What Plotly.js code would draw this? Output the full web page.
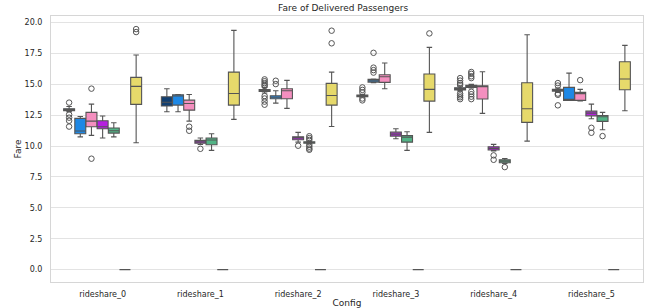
<!DOCTYPE html>
<html>
<head>
<meta charset="utf-8">
<script src="https://cdn.plot.ly/plotly-3.0.1.min.js"></script>
<style>html,body{margin:0;padding:0;background:#fff;}#chart{width:645px;height:308px;}</style>
</head>
<body>
<div id="chart"></div>
<script>
const categories = ["rideshare_0","rideshare_1","rideshare_2","rideshare_3","rideshare_4","rideshare_5"];
const seriesNames = ["series_0","series_1","series_2","series_3","series_4","series_5","series_6"];
const seriesColors = ["#123f70","#1e88e5","#f48fbf","#b620e0","#52b486","#9a9a9a","#e6d96b"];

// series_0 (navy)
const s0_lf  = [12.78, 12.78, 14.30, 13.95, 14.45, 14.35];
const s0_q1  = [12.86, 13.24, 14.42, 14.00, 14.55, 14.45];
const s0_med = [12.94, 13.55, 14.50, 14.08, 14.64, 14.53];
const s0_q3  = [13.02, 13.99, 14.58, 14.14, 14.72, 14.60];
const s0_uf  = [13.20, 14.64, 14.75, 14.20, 14.85, 14.70];
const s0_out = [[13.52,12.55,12.30,12.05,11.58],[],[15.40,15.25,15.10,14.95,14.85,14.05,13.85,13.60,13.35],[14.75,14.55,14.35,13.85,13.70],[15.50,15.30,15.10,14.95,14.25,14.10,13.95,13.80],[15.10,14.90,14.25,14.15,13.30]];

// series_1 (blue)
const s1_lf  = [10.75, 12.78, 13.48, 15.13, 14.70, 13.70];
const s1_q1  = [11.00, 13.32, 13.83, 15.18, 14.75, 13.70];
const s1_med = [11.22, 14.05, 13.95, 15.29, 14.85, 13.75];
const s1_q3  = [12.24, 14.15, 14.07, 15.40, 14.92, 14.75];
const s1_uf  = [12.40, 14.18, 14.48, 15.43, 15.00, 15.91];
const s1_out = [[],[],[15.29,15.02],[17.55,16.35,16.15,15.95],[16.00,15.85,15.65,15.50,14.40,14.20,14.00,13.80],[]];

// series_2 (pink)
const s2_lf  = [10.87, 12.02, 13.05, 14.64, 12.65, 13.65];
const s2_q1  = [11.57, 12.91, 13.83, 15.16, 13.81, 13.70];
const s2_med = [12.02, 13.45, 14.48, 15.61, 14.80, 14.25];
const s2_q3  = [12.73, 13.72, 14.64, 15.78, 14.88, 14.35];
const s2_uf  = [13.40, 14.18, 15.32, 16.72, 16.02, 14.59];
const s2_out = [[14.65,8.98],[11.57,11.24],[],[],[],[15.34]];

// series_3 (purple)
const s3_lf  = [10.65, 10.13, 10.32, 10.59, 9.60, 12.21];
const s3_q1  = [11.40, 10.24, 10.51, 10.81, 9.68, 12.45];
const s3_med = [11.57, 10.35, 10.65, 10.97, 9.81, 12.67];
const s3_q3  = [12.05, 10.46, 10.75, 11.13, 9.94, 12.83];
const s3_uf  = [12.43, 10.65, 11.11, 11.40, 10.14, 13.40];
const s3_out = [[],[9.78],[10.03],[],[9.25,8.89],[11.48,11.08]];

// series_4 (green)
const s4_lf  = [10.75, 9.65, 10.20, 9.65, 8.60, 11.32];
const s4_q1  = [11.05, 10.11, 10.24, 10.32, 8.65, 12.00];
const s4_med = [11.24, 10.49, 10.30, 10.73, 8.78, 12.37];
const s4_q3  = [11.46, 10.65, 10.35, 10.86, 8.89, 12.48];
const s4_uf  = [11.89, 11.00, 10.40, 11.16, 9.00, 12.73];
const s4_out = [[],[],[10.80,10.65,10.50,10.10,9.95,9.80,9.70],[],[8.30],[10.81]];

// series_5 (all zero)
const s5_lf  = [0, 0, 0, 0, 0, 0];
const s5_q1  = [0, 0, 0, 0, 0, 0];
const s5_med = [0, 0, 0, 0, 0, 0];
const s5_q3  = [0, 0, 0, 0, 0, 0];
const s5_uf  = [0, 0, 0, 0, 0, 0];
const s5_out = [[],[],[],[],[],[]];

// series_6 (yellow)
const s6_lf  = [10.27, 12.16, 11.59, 11.11, 10.40, 12.86];
const s6_q1  = [13.38, 13.32, 13.32, 13.64, 11.92, 14.56];
const s6_med = [14.83, 14.26, 14.10, 14.59, 13.02, 15.43];
const s6_q3  = [15.56, 15.99, 15.08, 15.83, 15.13, 16.83];
const s6_uf  = [17.37, 19.37, 15.99, 17.99, 19.01, 18.15];
const s6_out = [[19.47,19.23],[],[19.34,18.32],[19.12],[],[]];

const stats = [
  [s0_lf,s0_q1,s0_med,s0_q3,s0_uf,s0_out],
  [s1_lf,s1_q1,s1_med,s1_q3,s1_uf,s1_out],
  [s2_lf,s2_q1,s2_med,s2_q3,s2_uf,s2_out],
  [s3_lf,s3_q1,s3_med,s3_q3,s3_uf,s3_out],
  [s4_lf,s4_q1,s4_med,s4_q3,s4_uf,s4_out],
  [s5_lf,s5_q1,s5_med,s5_q3,s5_uf,s5_out],
  [s6_lf,s6_q1,s6_med,s6_q3,s6_uf,s6_out]
];

const lineCol = "#555555";
const traces = [];
stats.forEach((s, i) => {
  traces.push({
    type: "box",
    name: seriesNames[i],
    offsetgroup: "g" + i,
    x: categories,
    lowerfence: s[0], q1: s[1], median: s[2], q3: s[3], upperfence: s[4],
    boxpoints: false,
    fillcolor: seriesColors[i],
    line: {color: lineCol, width: 1.1},
    whiskerwidth: 0.5,
    hoverinfo: "y"
  });
});
// outlier points, placed in the same offset group slots
stats.forEach((s, i) => {
  const ox = [], oy = [];
  s[5].forEach((arr, c) => arr.forEach(v => { ox.push(categories[c]); oy.push(v); }));
  if (!oy.length) { ox.push(categories[0]); oy.push(null); }
  traces.push({
    type: "box",
    name: seriesNames[i] + " outliers",
    offsetgroup: "g" + i,
    x: ox, y: oy,
    boxpoints: "all", pointpos: 0, jitter: 0,
    fillcolor: "rgba(0,0,0,0)",
    line: {color: "rgba(0,0,0,0)", width: 0},
    whiskerwidth: 0,
    marker: {symbol: "circle-open", size: 5.5, color: lineCol, line: {width: 1, color: lineCol}},
    hoverinfo: "y"
  });
});

const font = "DejaVu Sans, sans-serif";
const layout = {
  width: 645, height: 308,
  margin: {l: 51, r: 2, t: 16, b: 26},
  paper_bgcolor: "#ffffff", plot_bgcolor: "#ffffff",
  showlegend: false,
  boxmode: "group", boxgap: 0.2, boxgroupgap: 0.02,
  font: {family: font, color: "#262626", size: 8},
  title: {text: "Fare of Delivered Passengers", font: {family: font, size: 9, color: "#262626"}, x: 0.532, xanchor: "center", y: 0.975, yanchor: "middle"},
  xaxis: {
    type: "category",
    categoryorder: "array", categoryarray: categories,
    title: {text: "Config", font: {family: font, size: 9, color: "#262626"}, standoff: 4},
    tickfont: {family: font, size: 8, color: "#262626"},
    showgrid: false, zeroline: false,
    showline: true, mirror: true, linecolor: "#d6d6d6", linewidth: 1,
    ticks: "", ticklabelstandoff: 4
  },
  yaxis: {
    range: [-1.0, 20.53],
    tickvals: [0, 2.5, 5, 7.5, 10, 12.5, 15, 17.5, 20],
    ticktext: ["0.0","2.5","5.0","7.5","10.0","12.5","15.0","17.5","20.0"],
    title: {text: "Fare", font: {family: font, size: 9, color: "#262626"}, standoff: 1},
    tickfont: {family: font, size: 8, color: "#262626"},
    showgrid: true, gridcolor: "#e3e3e3", gridwidth: 1,
    zeroline: false,
    showline: true, mirror: true, linecolor: "#d6d6d6", linewidth: 1,
    ticks: "", ticklabelstandoff: 6
  }
};

Plotly.newPlot("chart", traces, layout, {displayModeBar: false, staticPlot: true});
</script>
</body>
</html>
